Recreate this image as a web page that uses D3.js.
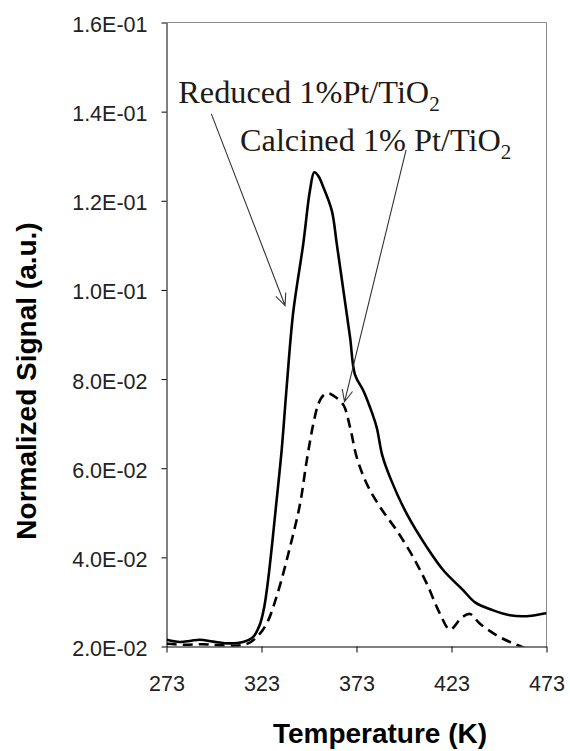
<!DOCTYPE html>
<html>
  <head>
    <meta charset="utf-8">
    <title>TPD normalized signal</title>
    <script src="https://d3js.org/d3.v7.min.js"></script>
    <style>
      body { margin: 0; background: #fff; }
    </style>
  </head>
  <body>
  <script>
  // data
  var tempReduced = [273.1, 280, 286, 290.6, 297.5, 306.4, 313.3, 318.5, 322.2, 324.5, 326.5, 328.6, 331, 333.6,
    336.3, 339.7, 345, 348.5, 350.8, 353, 355.5, 360, 362.6, 366.1, 369.6, 372.2, 376.5, 380, 383.6, 386.5,
    390.6, 399.4, 410, 418.7, 429.2, 435.4, 445, 453.8, 462.6, 473];
  var sigReduced = [0.0215, 0.0210, 0.0213, 0.0215, 0.0211, 0.0207, 0.0210, 0.0221, 0.0250, 0.0290, 0.0350, 0.0430, 0.0530, 0.0640,
    0.0785, 0.0950, 0.1104, 0.1223, 0.1264, 0.1255, 0.1231, 0.1178, 0.1104, 0.0999, 0.0894, 0.0810, 0.0775, 0.0738, 0.0692, 0.0630,
    0.0580, 0.0498, 0.0423, 0.0371, 0.0326, 0.0299, 0.0281, 0.0270, 0.0268, 0.0275];

  var tempCalcined = [273.1, 282, 292, 300, 310, 316, 320.5, 325.7, 331.5, 338, 343.3, 346.8, 350.3, 353, 355.5,
    358, 360.8, 366.1, 369.6, 373.1, 378.4, 385.4, 394.2, 402.9, 410, 417, 422.2, 428.4, 432.7, 438, 446.8,
    453.8, 460.8, 467, 473];
  var sigCalcined = [0.0206, 0.0204, 0.0205, 0.0203, 0.0202, 0.0207, 0.0221, 0.0251, 0.0320, 0.0423, 0.0520, 0.0617, 0.0700, 0.0745, 0.0763,
    0.0768, 0.0763, 0.0742, 0.0692, 0.0625, 0.0565, 0.0513, 0.0460, 0.0400, 0.0341, 0.0273, 0.0238, 0.0265, 0.0273, 0.0251, 0.0225,
    0.0210, 0.0198, 0.0190, 0.0185];

  var xTicks = [273, 323, 373, 423, 473];
  var yTicks = [0.02, 0.04, 0.06, 0.08, 0.10, 0.12, 0.14, 0.16];
  var yTickLabels = ["2.0E-02", "4.0E-02", "6.0E-02", "8.0E-02", "1.0E-01", "1.2E-01", "1.4E-01", "1.6E-01"];

  // annotation labels, anchored in data units
  var notes = [
    {name: "Reduced 1%Pt/TiO", sub: "2", tx: 279.2, tv: 0.1419, from: [296.6, 0.1395], to: [335.4, 0.0965]},
    {name: "Calcined 1% Pt/TiO", sub: "2", tx: 311.7, tv: 0.1311, from: [399.1, 0.1314], to: [366.7, 0.0749]}
  ];

  // Basic setting (note: "top" is a reserved window name, so use plot*)
  var width = 570, height = 751;
  var plotLeft = 166.5, plotRight = 546.5, plotTop = 22.5, plotBottom = 646.5;

  var x = d3.scaleLinear().domain([273, 473]).range([plotLeft, plotRight]);
  var y = d3.scaleLinear().domain([0.02, 0.16]).range([plotBottom, plotTop]);

  var svg = d3.select("body").append("svg")
    .attr("width", width)
    .attr("height", height);

  svg.append("clipPath").attr("id", "plotclip")
    .append("rect")
    .attr("x", plotLeft).attr("y", plotTop)
    .attr("width", plotRight - plotLeft).attr("height", plotBottom - plotTop);

  // gray frame top / right
  svg.append("path")
    .attr("d", "M" + plotLeft + "," + plotTop + "H" + plotRight + "V" + plotBottom)
    .attr("fill", "none")
    .attr("stroke", "#8a8a8a")
    .attr("stroke-width", 1);

  // axes
  var yAxis = d3.axisLeft(y)
    .tickValues(yTicks)
    .tickFormat(function(d, i) { return yTickLabels[i]; })
    .tickSize(5).tickSizeOuter(0).tickPadding(14);

  var xAxis = d3.axisBottom(x)
    .tickValues(xTicks)
    .tickFormat(d3.format("d"))
    .tickSize(6).tickSizeOuter(0).tickPadding(23);

  var gy = svg.append("g").attr("transform", "translate(" + plotLeft + ",0)").call(yAxis);
  var gx = svg.append("g").attr("transform", "translate(0," + plotBottom + ")").call(xAxis);

  [gx, gy].forEach(function(g) {
    g.selectAll("path, line").attr("stroke", "#000");
    g.selectAll("text")
      .attr("fill", "#222")
      .style("font-family", "'Liberation Sans', Arial, sans-serif")
      .style("font-size", "21.5px");
  });
  gy.selectAll("text").attr("dy", "0.42em");

  // titles
  svg.append("text")
    .attr("x", 380).attr("y", 743)
    .attr("text-anchor", "middle")
    .style("font-family", "'Liberation Sans', Arial, sans-serif")
    .style("font-size", "28px").style("font-weight", "bold")
    .text("Temperature (K)");

  svg.append("text")
    .attr("transform", "translate(35.5,381) rotate(-90)")
    .attr("text-anchor", "middle")
    .style("font-family", "'Liberation Sans', Arial, sans-serif")
    .style("font-size", "28px").style("font-weight", "bold")
    .text("Normalized Signal (a.u.)");

  // curves
  var line = d3.line()
    .x(function(d) { return x(d[0]); })
    .y(function(d) { return y(d[1]); })
    .curve(d3.curveCatmullRom.alpha(0.5));

  var reduced = d3.zip(tempReduced, sigReduced);
  var calcined = d3.zip(tempCalcined, sigCalcined);

  var plot = svg.append("g").attr("clip-path", "url(#plotclip)");

  plot.append("path")
    .datum(calcined)
    .attr("d", line)
    .attr("fill", "none")
    .attr("stroke", "#000")
    .attr("stroke-width", 2.6)
    .attr("stroke-dasharray", "10,6");

  plot.append("path")
    .datum(reduced)
    .attr("d", line)
    .attr("fill", "none")
    .attr("stroke", "#000")
    .attr("stroke-width", 2.6);

  // annotations with open arrowheads
  notes.forEach(function(n) {
    var t = svg.append("text")
      .attr("x", x(n.tx)).attr("y", y(n.tv))
      .attr("fill", "#1e1a16")
      .style("font-family", "'Liberation Serif', 'Times New Roman', serif")
      .style("font-size", "32.3px");
    t.append("tspan").text(n.name);
    t.append("tspan").attr("dy", 8).style("font-size", "21px").text(n.sub);

    var x1 = x(n.from[0]), y1 = y(n.from[1]), x2 = x(n.to[0]), y2 = y(n.to[1]);
    var ang = Math.atan2(y2 - y1, x2 - x1), len = 13, spread = 0.42;
    var p = "M" + x1 + "," + y1 + "L" + x2 + "," + y2 +
      "M" + (x2 - len * Math.cos(ang - spread)) + "," + (y2 - len * Math.sin(ang - spread)) +
      "L" + x2 + "," + y2 +
      "L" + (x2 - len * Math.cos(ang + spread)) + "," + (y2 - len * Math.sin(ang + spread));
    svg.append("path")
      .attr("d", p)
      .attr("fill", "none")
      .attr("stroke", "#333")
      .attr("stroke-width", 1.1);
  });
  </script>
  </body>
</html>
